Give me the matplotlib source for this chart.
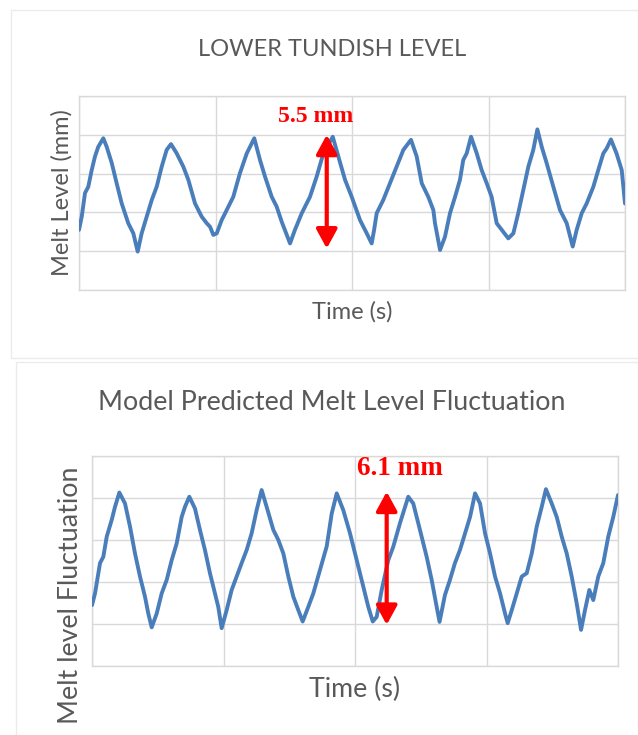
import matplotlib
matplotlib.use("Agg")
import matplotlib.pyplot as plt
from matplotlib.patches import Rectangle

# ---------------- data (grid units: x 0-4, y 0-5) ----------------
top_title = "LOWER TUNDISH LEVEL"
top_ylabel = "Melt Level (mm)"
top_xlabel = "Time (s)"
top_note = "5.5 mm"
top_x = [0.000, 0.020, 0.044, 0.068, 0.093, 0.117, 0.141, 0.178, 0.203, 0.240,
         0.276, 0.313, 0.361, 0.398, 0.430, 0.459, 0.496, 0.533, 0.569, 0.606,
         0.642, 0.674, 0.716, 0.764, 0.801, 0.850, 0.899, 0.936, 0.960, 0.984,
         1.009, 1.045, 1.082, 1.130, 1.179, 1.229, 1.284, 1.326, 1.363, 1.412,
         1.448, 1.485, 1.546, 1.582, 1.632, 1.692, 1.741, 1.790, 1.859, 1.900,
         1.949, 1.998, 2.059, 2.108, 2.144, 2.162, 2.181, 2.229, 2.278, 2.327,
         2.376, 2.432, 2.474, 2.511, 2.559, 2.596, 2.608, 2.645, 2.681, 2.718,
         2.755, 2.791, 2.815, 2.840, 2.872, 2.914, 2.950, 2.987, 3.023, 3.060,
         3.097, 3.145, 3.182, 3.218, 3.255, 3.292, 3.328, 3.358, 3.390, 3.426,
         3.475, 3.524, 3.573, 3.617, 3.646, 3.683, 3.719, 3.768, 3.804, 3.841,
         3.866, 3.897, 3.938, 3.976, 4.000]
top_y = [1.55, 1.89, 2.50, 2.66, 3.09, 3.44, 3.69, 3.91, 3.69, 3.27,
         2.75, 2.23, 1.72, 1.46, 0.99, 1.46, 1.89, 2.32, 2.66, 3.18,
         3.61, 3.76, 3.52, 3.18, 2.84, 2.23, 1.89, 1.72, 1.63, 1.42,
         1.46, 1.80, 2.06, 2.40, 3.01, 3.52, 3.91, 3.35, 2.92, 2.40,
         2.15, 1.76, 1.20, 1.55, 1.98, 2.40, 2.92, 3.52, 3.95, 3.44,
         2.84, 2.40, 1.80, 1.46, 1.20, 1.55, 1.98, 2.32, 2.75, 3.18,
         3.61, 3.87, 3.44, 2.75, 2.40, 2.06, 1.72, 1.03, 1.37, 1.98,
         2.40, 2.84, 3.35, 3.52, 3.95, 3.52, 3.09, 2.75, 2.40, 1.72,
         1.55, 1.33, 1.46, 1.98, 2.58, 3.18, 3.61, 4.14, 3.69, 3.27,
         2.66, 2.06, 1.72, 1.12, 1.55, 1.98, 2.23, 2.66, 3.09, 3.52,
         3.65, 3.88, 3.52, 3.09, 2.23]
top_arrow_x = 1.815
top_arrow_y = [1.07, 4.00]

bot_title = "Model Predicted Melt Level Fluctuation"
bot_ylabel = "Melt level Fluctuation"
bot_xlabel = "Time (s)"
bot_note = "6.1 mm"
bot_x = [0.000, 0.023, 0.061, 0.086, 0.112, 0.150, 0.175, 0.208, 0.251, 0.289,
         0.327, 0.365, 0.403, 0.428, 0.454, 0.492, 0.530, 0.568, 0.606, 0.644,
         0.682, 0.707, 0.740, 0.783, 0.821, 0.859, 0.897, 0.935, 0.960, 0.986,
         1.024, 1.062, 1.100, 1.138, 1.176, 1.214, 1.252, 1.290, 1.328, 1.379,
         1.417, 1.455, 1.493, 1.531, 1.569, 1.602, 1.645, 1.683, 1.734, 1.785,
         1.823, 1.861, 1.911, 1.962, 2.013, 2.063, 2.101, 2.135, 2.165, 2.203,
         2.253, 2.291, 2.342, 2.405, 2.443, 2.494, 2.545, 2.583, 2.621, 2.643,
         2.684, 2.722, 2.760, 2.798, 2.837, 2.875, 2.913, 2.951, 2.989, 3.027,
         3.065, 3.103, 3.141, 3.161, 3.192, 3.230, 3.268, 3.306, 3.344, 3.382,
         3.420, 3.452, 3.496, 3.534, 3.572, 3.610, 3.648, 3.686, 3.719, 3.749,
         3.782, 3.812, 3.850, 3.888, 3.926, 3.964, 4.000]
bot_y = [1.45, 1.73, 2.45, 2.60, 3.08, 3.48, 3.79, 4.13, 3.87, 3.32,
         2.68, 2.13, 1.65, 1.25, 0.92, 1.25, 1.73, 2.05, 2.52, 2.92,
         3.55, 3.79, 4.03, 3.75, 3.24, 2.76, 2.21, 1.73, 1.41, 0.90,
         1.33, 1.81, 2.13, 2.45, 2.76, 3.16, 3.71, 4.19, 3.79, 3.24,
         3.00, 2.68, 2.13, 1.65, 1.33, 1.06, 1.41, 1.73, 2.29, 2.85,
         3.63, 4.11, 3.71, 3.16, 2.52, 1.89, 1.41, 1.06, 1.17, 1.81,
         2.52, 2.84, 3.40, 4.03, 3.87, 3.24, 2.60, 2.05, 1.41, 1.05,
         1.69, 2.05, 2.45, 2.76, 3.16, 3.55, 4.11, 3.87, 3.16, 2.68,
         2.13, 1.73, 1.25, 1.02, 1.33, 1.73, 2.13, 2.21, 2.68, 3.32,
         3.79, 4.21, 3.87, 3.55, 3.08, 2.68, 2.13, 1.49, 0.86, 1.33,
         1.81, 1.57, 2.13, 2.45, 3.08, 3.55, 4.07]
bot_arrow_x = 2.241
bot_arrow_y = [0.98, 4.15]

# ---------------- styling ----------------
W, H = 638, 735
fig = plt.figure(figsize=(W / 100, H / 100), dpi=100)
fig.patch.set_facecolor("white")

GREY = "#595959"
GRID = "#d9d9d9"
BLUE = "#4a7ebb"
RED = "#ff0000"
SANS = ["Lato", "DejaVu Sans"]
SERIF = ["Liberation Serif", "DejaVu Serif"]


def px_axes(l, t, r, b):
    ax = fig.add_axes([l / W, 1 - b / H, (r - l) / W, (b - t) / H])
    ax.set_zorder(2)
    return ax


# cards
fig.patches.append(Rectangle((11 / W, 1 - 358 / H), (W - 11) / W, 348 / H,
                             transform=fig.transFigure, facecolor="none",
                             edgecolor="#ebebeb", lw=1.0, zorder=-1))
fig.patches.append(Rectangle((16 / W, -0.01), (W - 16) / W, (735 - 362) / H + 0.01,
                             transform=fig.transFigure, facecolor="none",
                             edgecolor="#ebebeb", lw=1.0, zorder=-1))


def panel(ax, x, y, arrow_x, arrow_y, note, note_xy, note_size, head):
    ax.plot(x, y, color=BLUE, lw=2.8, solid_joinstyle="round",
            solid_capstyle="round", zorder=3)
    ax.set_xlim(0, 4)
    ax.set_ylim(0, 5)
    ax.set_xticks([0, 1, 2, 3, 4])
    ax.set_yticks([0, 1, 2, 3, 4, 5])
    ax.grid(True, color=GRID, lw=1.0)
    ax.tick_params(length=0, labelbottom=False, labelleft=False)
    for s in ax.spines.values():
        s.set_color(GRID)
        s.set_linewidth(1.0)
    ax.annotate("", xy=(arrow_x, arrow_y[1]), xytext=(arrow_x, arrow_y[0]),
                arrowprops=dict(arrowstyle="<|-|>,head_length=0.55,head_width=0.3",
                                color=RED, lw=3, mutation_scale=head,
                                shrinkA=0, shrinkB=0),
                zorder=4)
    ax.text(note_xy[0], note_xy[1], note, color=RED, fontsize=note_size,
            family=SERIF, fontweight="bold", ha="center", va="center", zorder=5)


ax1 = px_axes(79, 96, 625, 290)
panel(ax1, top_x, top_y, top_arrow_x, top_arrow_y, top_note, (1.73, 4.47), 17, 21)
fig.text(332 / W, 1 - 50 / H, top_title, color=GREY, fontsize=17, family=SANS,
         ha="center", va="center")
fig.text(62 / W, 1 - 193 / H, top_ylabel, color=GREY, fontsize=17, family=SANS,
         ha="center", va="center", rotation=90)
fig.text(352 / W, 1 - 312 / H, top_xlabel, color=GREY, fontsize=17, family=SANS,
         ha="center", va="center")

ax2 = px_axes(92, 456, 618, 666)
panel(ax2, bot_x, bot_y, bot_arrow_x, bot_arrow_y, bot_note, (2.34, 4.71), 19.5, 21)
fig.text(332 / W, 1 - 402 / H, bot_title, color=GREY, fontsize=19.3, family=SANS,
         ha="center", va="center")
fig.text(71 / W, 1 - 595 / H, bot_ylabel, color=GREY, fontsize=19.3, family=SANS,
         ha="center", va="center", rotation=90)
fig.text(355 / W, 1 - 689 / H, bot_xlabel, color=GREY, fontsize=19.3, family=SANS,
         ha="center", va="center")

fig.savefig("out.png", dpi=100, facecolor="white")
